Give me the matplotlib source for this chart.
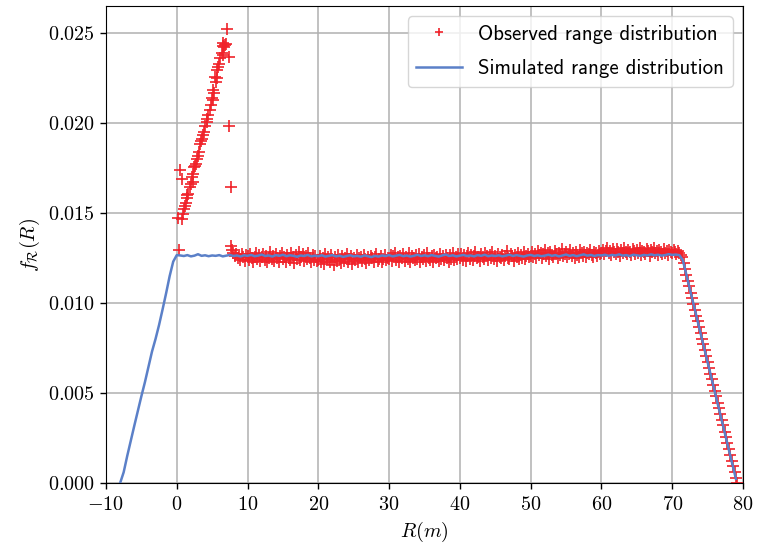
import numpy as np
import matplotlib
matplotlib.use('Agg')
import matplotlib.pyplot as plt
from matplotlib.ticker import FuncFormatter, MultipleLocator

plt.rcParams.update({'mathtext.fontset': 'cm',
                     'font.family': 'cmr10',
                     'font.size': 14.5,
                     'axes.unicode_minus': False,
                     'legend.fontsize': 15})

# observed range distribution, values in units of 1e-5
# rising cluster near the origin (x, y pairs)
obs_rise_x = [0.35, 0.21, 0.45, 0.69, 0.69, 0.92, 1.02, 1.15, 1.30, 1.40, 1.50,
              1.62, 1.87, 2.00, 2.25, 2.10, 2.33, 2.43, 2.60, 2.71, 2.81, 3.04,
              3.18, 3.28, 3.40, 3.52, 3.74, 3.90, 3.98, 4.22, 4.30, 4.45, 4.69,
              4.80, 4.93, 5.07, 5.26, 5.07, 5.50, 5.64, 5.40, 5.64, 5.86, 6.00,
              6.10, 6.57, 6.34, 6.49, 6.70, 6.81, 6.57, 6.90, 7.05,
              7.42, 7.42, 7.62]
obs_rise_y = [1297, 1474, 1739, 1689, 1465, 1493, 1521, 1540, 1558, 1586, 1600,
              1605, 1642, 1660, 1670, 1698, 1717, 1754, 1760, 1773, 1800, 1819,
              1838, 1885, 1900, 1913, 1931, 1950, 1981, 2005, 2020, 2043, 2071,
              2100, 2136, 2127, 2164, 2183, 2230, 2248, 2257, 2295, 2313, 2330,
              2360, 2379, 2388, 2429, 2420, 2435, 2444, 2440, 2523,
              2366, 1981, 1642]

# flat part, bins of 0.2 m starting at 7.6 m
obs_flat_start = 7.6
obs_flat = [
    1315, 1292, 1278, 1262, 1270, 1248, 1265, 1240, 1272, 1255, 1236, 1268,
    1262, 1238, 1271, 1249, 1225, 1258, 1280, 1244, 1266, 1231,
    1257, 1274, 1240, 1262, 1228, 1252, 1285, 1246, 1259, 1234,
    1270, 1251, 1226, 1263, 1278, 1242, 1255, 1230, 1268, 1249,
    1237, 1275, 1258, 1221, 1264, 1247, 1282, 1239, 1256, 1270,
    1233, 1261, 1245, 1276, 1250, 1228, 1267, 1241, 1259, 1236,
    1240, 1262, 1225, 1251, 1218, 1270, 1238, 1255, 1229, 1264,
    1243, 1212, 1257, 1235, 1268, 1246, 1222, 1259, 1233, 1250,
    1273, 1228, 1244, 1261, 1216, 1252, 1239, 1266, 1226, 1248,
    1258, 1231, 1269, 1242, 1220, 1256, 1237, 1263, 1249, 1225,
    1254, 1272, 1234, 1247, 1260, 1228, 1245, 1266, 1238, 1251,
    1245, 1268, 1232, 1259, 1276, 1240, 1254, 1227, 1263, 1248,
    1271, 1236, 1257, 1242, 1280, 1229, 1262, 1250, 1238, 1266,
    1244, 1273, 1230, 1258, 1247, 1265, 1235, 1277, 1252, 1241,
    1260, 1226, 1269, 1249, 1256, 1233, 1274, 1245, 1261, 1239,
    1267, 1251, 1228, 1264, 1246, 1278, 1237, 1255, 1243, 1270,
    1250, 1272, 1241, 1264, 1233, 1259, 1280, 1246, 1268, 1237,
    1262, 1285, 1249, 1256, 1231, 1270, 1254, 1243, 1276, 1260,
    1238, 1266, 1252, 1283, 1245, 1261, 1235, 1274, 1257, 1248,
    1269, 1240, 1263, 1287, 1251, 1244, 1272, 1259, 1236, 1267,
    1255, 1278, 1242, 1264, 1250, 1281, 1246, 1260, 1271, 1253,
    1262, 1284, 1255, 1273, 1248, 1290, 1266, 1279, 1252, 1270,
    1295, 1261, 1276, 1245, 1283, 1268, 1257, 1288, 1272, 1250,
    1279, 1264, 1298, 1259, 1274, 1286, 1253, 1270, 1292, 1263,
    1277, 1248, 1284, 1269, 1258, 1293, 1275, 1262, 1286, 1256,
    1280, 1271, 1297, 1265, 1254, 1282, 1276, 1260, 1289, 1273,
    1278, 1296, 1270, 1288, 1305, 1275, 1290, 1266, 1299, 1283,
    1272, 1302, 1286, 1262, 1294, 1279, 1308, 1284, 1271, 1297,
    1281, 1266, 1300, 1289, 1274, 1295, 1280, 1306, 1268, 1291,
    1284, 1273, 1298, 1287, 1263, 1294, 1282, 1303, 1276, 1290,
    1269, 1296, 1285, 1274, 1301, 1279, 1288, 1267, 1293, 1281,
    1275, 1297, 1284, 1270, 1289, 1278, 1265,
    # falling edge
    1255, 1222, 1188, 1158, 1122, 1093, 1058, 1029, 994, 963,
    928, 899, 866, 835, 800, 771, 737, 708, 672, 641,
    608, 579, 545, 512, 482, 447, 416, 385, 349, 320,
    285, 254, 222, 187, 158, 124, 93, 60, 28, 0]

# simulated range distribution, 0.5 m steps from -8 m, units of 1e-5
sim_start = -8.0
sim = [
    0, 60, 150, 235, 318, 400, 482, 560, 645, 730, 800, 878, 965, 1055, 1150, 1230, 1266,
    1264, 1261, 1266, 1259, 1263, 1271, 1262, 1265, 1260, 1264,
    1262, 1266, 1259, 1263, 1267, 1261, 1264, 1258, 1265, 1262,
    1267, 1260, 1263, 1269, 1261, 1264, 1258, 1266, 1262, 1268,
    1260, 1265, 1262, 1257, 1264, 1261, 1267, 1259, 1263, 1260,
    1265, 1258, 1262, 1266, 1259, 1263, 1256, 1261, 1265, 1259,
    1262, 1257, 1264, 1260, 1255, 1262, 1258, 1264, 1261, 1266,
    1259, 1263, 1267, 1260, 1264, 1258, 1262, 1268, 1261, 1265,
    1260, 1266, 1262, 1258, 1264, 1269, 1261, 1265, 1259, 1263,
    1267, 1261, 1264, 1259, 1266, 1262, 1268, 1260, 1264, 1261,
    1265, 1259, 1263, 1268, 1261, 1266, 1262, 1258, 1264, 1267,
    1261, 1265, 1260, 1263, 1268, 1262, 1266, 1259, 1264, 1269,
    1262, 1266, 1260, 1265, 1270, 1263, 1267, 1261, 1266, 1264,
    1268, 1262, 1267, 1264, 1270, 1263, 1266, 1261, 1268, 1265,
    1262, 1267, 1264, 1270, 1265, 1268, 1263, 1266, 1271, 1267,
    1269, 1266,
    1238, 1157, 1075, 994, 914, 833, 752, 671, 590, 509, 428, 347, 266, 185, 104, 23]

scale = 1e-5
obs_x = np.concatenate([obs_rise_x, obs_flat_start + 0.2 * np.arange(len(obs_flat))])
obs_y = np.concatenate([obs_rise_y, obs_flat]) * scale
sim_x = sim_start + 0.5 * np.arange(len(sim))
sim_y = np.array(sim) * scale

fig = plt.figure(figsize=(7.57, 5.48), dpi=100)
ax = fig.add_axes([0.140, 0.1186, 0.8415, 0.8705])

ax.plot(obs_x, obs_y, '+', color='#f0222a', markersize=8, markeredgewidth=1.2,
        label='Observed range distribution', zorder=2)
ax.plot(sim_x, sim_y, '-', color='#5b80c8', linewidth=1.8,
        label='Simulated range distribution', zorder=3)

ax.set_xlim(-10, 80)
ax.set_ylim(0, 0.0265)
ax.xaxis.set_major_locator(MultipleLocator(10))
ax.yaxis.set_major_locator(MultipleLocator(0.005))
ax.xaxis.set_major_formatter(FuncFormatter(lambda v, p: '$%d$' % round(v)))
ax.yaxis.set_major_formatter(FuncFormatter(lambda v, p: '$%.3f$' % v))
ax.tick_params(labelsize=14.5, length=4.5, width=1.0)
ax.tick_params(axis='x', pad=5)

ax.set_xlabel(r'$R(m)$', fontsize=14.5)
ax.set_ylabel(r'$f_{\mathcal{R}}(R)$', fontsize=14.5)

ax.grid(True, color='#b0b0b0', linewidth=1.1)
ax.set_axisbelow(True)

ax.legend(loc='upper right', prop={'family': 'cmss10', 'size': 15},
          labelspacing=0.75, markerscale=0.75, handlelength=2.2)

plt.savefig('out.png', dpi=100)
